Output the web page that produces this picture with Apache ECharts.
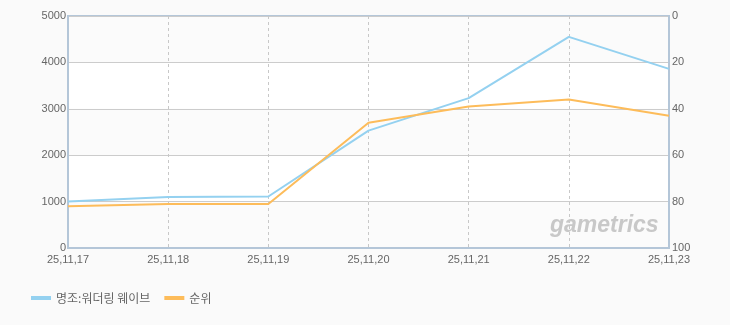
<!DOCTYPE html>
<html><head><meta charset="utf-8">
<script src="https://cdn.jsdelivr.net/npm/echarts@6/dist/echarts.min.js"></script>
<style>html,body{margin:0;padding:0;background:#fafafa}#c{width:730px;height:325px}</style>
</head><body><div id="c"></div>
<script>
const categories = ['25,11,17','25,11,18','25,11,19','25,11,20','25,11,21','25,11,22','25,11,23'];
const playersName = '명조:워더링 웨이브';
const players = [1000, 1100, 1110, 2530, 3230, 4550, 3860];
const rankName = '순위';
const rank = [82, 81, 81, 46, 39, 36, 43];
const leftTicks = [0, 1000, 2000, 3000, 4000, 5000];
const rightTicks = [0, 20, 40, 60, 80, 100];

const chart = echarts.init(document.getElementById('c'));
const lblFont = {color:'#666', fontSize:11, fontFamily:'Liberation Sans, Arial, sans-serif'};
chart.setOption({
  backgroundColor:'#fafafa',
  animation:false,
  grid:{left:68, right:61, top:16, bottom:77, show:true, borderColor:'#b4c6d8', borderWidth:2, backgroundColor:'transparent'},
  legend:{
    bottom:16, left:26, itemWidth:20, itemHeight:4, itemGap:14, icon:'rect',
    textStyle:{color:'#666', fontSize:12, fontFamily:'Noto Sans CJK KR, sans-serif'},
    data:[playersName, rankName]
  },
  xAxis:{
    type:'category', data:categories, boundaryGap:false,
    axisLine:{lineStyle:{color:'#b4c6d8', width:2}},
    axisTick:{show:false},
    axisLabel:Object.assign({margin:6}, lblFont),
    splitLine:{show:true, lineStyle:{color:'#c8c8c8', type:[3,3]}}
  },
  yAxis:[{
    type:'value', min:leftTicks[0], max:leftTicks[leftTicks.length-1], interval:1000,
    axisLine:{show:true, lineStyle:{color:'#b4c6d8', width:2}},
    axisTick:{show:false},
    axisLabel:Object.assign({margin:2, formatter:function(v){return String(v);}}, lblFont),
    splitLine:{show:true, lineStyle:{color:'#cccccc'}},
    splitArea:{show:true, areaStyle:{color:['#fbfbfb','#ffffff']}}
  },{
    type:'value', min:rightTicks[0], max:rightTicks[rightTicks.length-1], interval:20, inverse:true,
    position:'right',
    axisLine:{show:true, lineStyle:{color:'#b4c6d8', width:2}},
    axisTick:{show:false},
    axisLabel:Object.assign({margin:3}, lblFont),
    splitLine:{show:false}
  }],
  graphic:[{
    type:'text', x:550, y:214, z:100,
    style:{text:'gametrics', fill:'#c8c8c8', font:'italic bold 23px "Liberation Sans", sans-serif'}
  }],
  series:[{
    name:playersName, type:'line', data:players, yAxisIndex:0, showSymbol:false, symbol:'none',
    lineStyle:{color:'#94d1f0', width:2}, itemStyle:{color:'#94d1f0'}
  },{
    name:rankName, type:'line', data:rank, yAxisIndex:1, showSymbol:false, symbol:'none',
    lineStyle:{color:'#fdbc5a', width:2}, itemStyle:{color:'#fdbc5a'}
  }]
});
</script></body></html>
